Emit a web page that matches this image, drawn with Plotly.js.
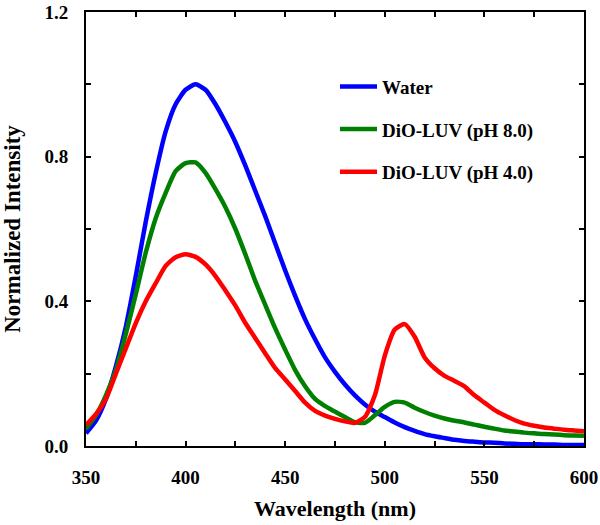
<!DOCTYPE html>
<html>
<head>
<meta charset="utf-8">
<script src="https://cdn.plot.ly/plotly-3.0.1.min.js"></script>
<style>html,body{margin:0;padding:0;background:#fff;}#chart{width:600px;height:525px;}</style>
</head>
<body>
<div id="chart"></div>
<script>
const wavelength = [350,355,360,365,370,375,380,385,390,395,400,405,410,415,420,425,430,435,440,445,450,455,460,465,470,475,480,485,490,495,500,505,510,515,520,525,530,535,540,545,550,555,560,565,570,575,580,585,590,595,600];

const water = [0.035,0.07,0.13,0.22,0.33,0.47,0.62,0.755,0.87,0.945,0.985,1.0,0.985,0.945,0.895,0.84,0.775,0.705,0.635,0.56,0.485,0.415,0.35,0.295,0.245,0.205,0.17,0.14,0.115,0.095,0.08,0.065,0.052,0.042,0.033,0.027,0.022,0.017,0.014,0.012,0.010,0.009,0.007,0.006,0.005,0.005,0.004,0.004,0.003,0.003,0.003];

const luvPH8 = [0.048,0.085,0.14,0.21,0.31,0.42,0.535,0.63,0.70,0.76,0.782,0.784,0.755,0.71,0.66,0.60,0.53,0.456,0.39,0.325,0.266,0.21,0.165,0.13,0.11,0.095,0.08,0.066,0.064,0.085,0.108,0.122,0.12,0.106,0.094,0.084,0.076,0.07,0.065,0.059,0.053,0.048,0.043,0.04,0.037,0.035,0.033,0.032,0.030,0.029,0.028];

const luvPH4 = [0.058,0.088,0.13,0.2,0.27,0.34,0.40,0.45,0.498,0.522,0.53,0.523,0.502,0.47,0.43,0.388,0.34,0.298,0.256,0.215,0.184,0.152,0.12,0.097,0.084,0.075,0.068,0.064,0.08,0.14,0.25,0.322,0.337,0.302,0.245,0.215,0.194,0.18,0.165,0.14,0.12,0.1,0.085,0.072,0.062,0.056,0.051,0.048,0.045,0.043,0.041];

const seriesNames = ["Water", "DiO-LUV (pH 8.0)", "DiO-LUV (pH 4.0)"];

const xTickVals = [350,375,400,425,450,475,500,525,550,575,600];
const xTickText = ["350","","400","","450","","500","","550","","600"];
const yTickVals = [0,0.2,0.4,0.6,0.8,1.0,1.2];
const yTickText = ["0.0","","0.4","","0.8","","1.2"];

const fontFam = '"Liberation Serif", "Times New Roman", Times, serif';
const colors = ["#0000ff", "#008000", "#ff0000"];
const ys = [water, luvPH8, luvPH4];

const traces = ys.map((y, i) => ({
  x: wavelength, y: y, type: 'scatter', mode: 'lines',
  name: seriesNames[i], legendgroup: 'g' + i,
  line: {color: colors[i], width: 4.5, shape: 'spline', smoothing: 0.6}
}));

const axisCommon = {
  showgrid: false, zeroline: false, showline: true, linecolor: '#000', linewidth: 2,
  mirror: 'ticks', ticks: 'inside', ticklen: 5, tickwidth: 2, tickcolor: '#000',
  tickmode: 'array', ticklabeloverflow: 'allow',
  tickfont: {family: fontFam, size: 19, color: '#000', weight: 'bold'}
};

const layout = {
  width: 600, height: 525,
  margin: {l: 86, r: 16, t: 12, b: 79},
  paper_bgcolor: '#fff', plot_bgcolor: '#fff',
  showlegend: true,
  legend: {
    x: 0.5, y: 0.872, xanchor: 'left', yanchor: 'top',
    font: {family: fontFam, size: 19, color: '#000', weight: 'bold'},
    tracegroupgap: 15, itemwidth: 37, bgcolor: 'rgba(0,0,0,0)'
  },
  xaxis: Object.assign({}, axisCommon, {
    range: [350, 600], tickvals: xTickVals, ticktext: xTickText,
    ticklabelstandoff: 13,
    title: {text: 'Wavelength (nm)', standoff: 14,
      font: {family: fontFam, size: 22, color: '#000', weight: 'bold'}}
  }),
  yaxis: Object.assign({}, axisCommon, {
    range: [0, 1.2], tickvals: yTickVals, ticktext: yTickText,
    ticklabelstandoff: 12,
    title: {text: 'Normalized Intensity', standoff: 19,
      font: {family: fontFam, size: 23, color: '#000', weight: 'bold'}}
  })
};

Plotly.newPlot('chart', traces, layout, {displayModeBar: false, staticPlot: true});
</script>
</body>
</html>
